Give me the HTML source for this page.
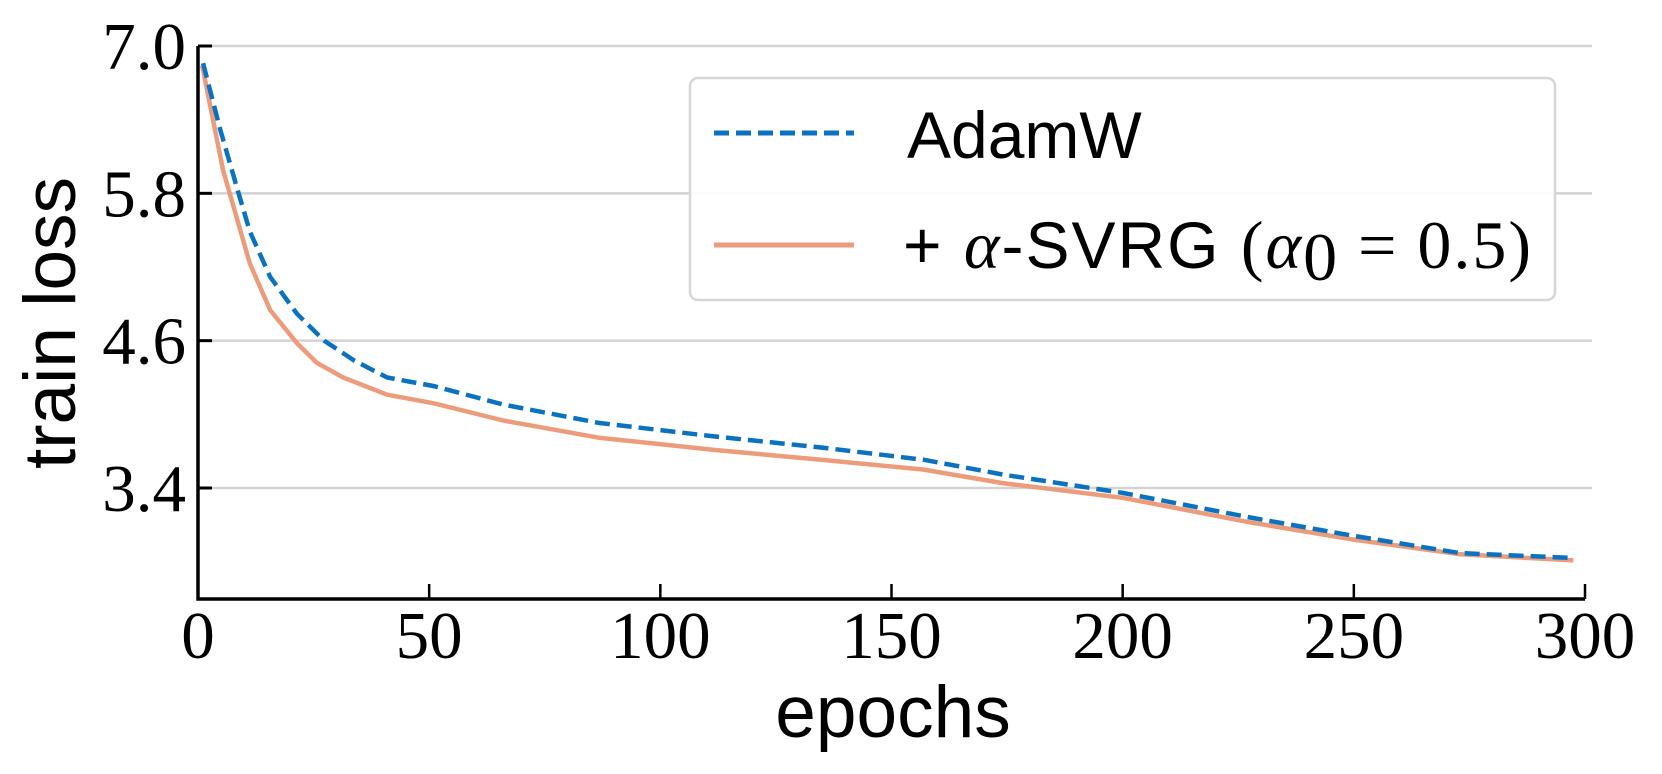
<!DOCTYPE html>
<html><head><meta charset="utf-8"><style>
html,body{margin:0;padding:0;background:#fff;}
svg{display:block;}
.tick{font-family:"Liberation Serif",serif;font-size:67px;fill:#000;}
.lab{font-family:"Liberation Sans",sans-serif;font-size:73px;fill:#000;}
.leg{font-family:"Liberation Sans",sans-serif;font-size:66px;fill:#000;}
.math{font-family:"Liberation Serif",serif;font-size:68px;fill:#000;}
</style></head><body>
<svg id="chart" width="1662" height="774" viewBox="0 0 1662 774" xmlns="http://www.w3.org/2000/svg">
<g id="grid"></g>
<g id="series"></g>
<g id="axes"></g>
<text class="lab" transform="translate(75,323) rotate(-90)" text-anchor="middle">train loss</text>
<text class="lab" x="893" y="737" text-anchor="middle">epochs</text>
<g>
<rect x="690" y="78" width="865" height="222" rx="8" fill="rgba(255,255,255,0.9)" stroke="#d6d6d6" stroke-width="2.5"/>
<line x1="714" y1="133" x2="854" y2="133" stroke="#0a72c0" stroke-width="5" stroke-dasharray="15,7"/>
<text class="leg" x="907" y="158">AdamW</text>
<line x1="714" y1="245" x2="854" y2="245" stroke="#ec9c7b" stroke-width="5"/>
<text class="leg" x="903" y="268" textLength="628" lengthAdjust="spacing">+ <tspan class="math" font-style="italic">α</tspan>-SVRG <tspan class="math">(</tspan><tspan class="math" font-style="italic">α</tspan><tspan class="math" font-size="46" dy="12">0</tspan><tspan class="math" dy="-12"> = 0.5)</tspan></text>
</g>
</svg>
<script>
const xTicks=[0,50,100,150,200,250,300];
const yTicks=[3.4,4.6,5.8,7.0];
const yTickLabels=["3.4","4.6","5.8","7.0"];
const adamwEpochs=[1.1,4.8,8.4,11.2,15.6,21.4,27.3,33.7,40.9,51,66,86.7,111.6,134.8,157,174,200,227.6,250,273,297.5];
const adamwLoss=[6.86,6.32,5.85,5.49,5.12,4.82,4.60,4.44,4.30,4.23,4.08,3.93,3.82,3.73,3.63,3.51,3.36,3.16,3.01,2.87,2.83];
const svrgEpochs=[0.9,5.4,11.2,15.6,21.4,25.7,31.4,40.9,51,66,86.7,111.6,134.8,157,174,200,227.6,250,273,297.5];
const svrgLoss=[6.84,5.99,5.23,4.85,4.58,4.42,4.30,4.16,4.09,3.95,3.81,3.71,3.63,3.55,3.44,3.32,3.12,2.98,2.86,2.81];
const NS="http://www.w3.org/2000/svg";
const X0=198,X1=1585,Y7=46,Y34=488;
function xs(e){return X0+(e/300)*(X1-X0);}
function ys(v){return Y7+(7.0-v)/(7.0-3.4)*(Y34-Y7);}
const grid=document.getElementById('grid'),axes=document.getElementById('axes'),series=document.getElementById('series');
function mk(tag,attrs,parent){const el=document.createElementNS(NS,tag);for(const k in attrs)el.setAttribute(k,attrs[k]);parent.appendChild(el);return el;}
yTicks.forEach((v,i)=>{
  const g=mk('line',{x1:X0,x2:1592,y1:ys(v),y2:ys(v),stroke:'#d3d3d3','stroke-width':2.5},grid);
  
  
  const t=mk('line',{x1:X0,x2:X0+14,y1:ys(v),y2:ys(v),stroke:'#000','stroke-width':3},axes);
  
  
  const l=mk('text',{x:186,y:ys(v)+23,'text-anchor':'end','class':'tick'},axes);
  l.textContent=yTickLabels[i];
  
  
});
xTicks.forEach(e=>{
  if(e>0){const t=mk('line',{x1:xs(e),x2:xs(e),y1:599,y2:584,stroke:'#000','stroke-width':2.5},axes);
  
  }
  const l=mk('text',{x:xs(e),y:658,'text-anchor':'middle','class':'tick'},axes);
  l.textContent=String(e);
  
  
});
const ax=mk('path',{d:`M${X0} ${Y7} L${X0} 599 L${X1} 599`,fill:'none',stroke:'#000','stroke-width':3.5},axes);


function pts(ex,vs){return ex.map((e,i)=>xs(e).toFixed(1)+','+ys(vs[i]).toFixed(1)).join(' ');}
const s=mk('polyline',{points:pts(svrgEpochs,svrgLoss),fill:'none',stroke:'#ec9c7b','stroke-width':4.5,'stroke-linejoin':'round'},series);


const a=mk('polyline',{points:pts(adamwEpochs,adamwLoss),fill:'none',stroke:'#0a72c0','stroke-width':4.5,'stroke-dasharray':'15,7'},series);


</script>
</body></html>
